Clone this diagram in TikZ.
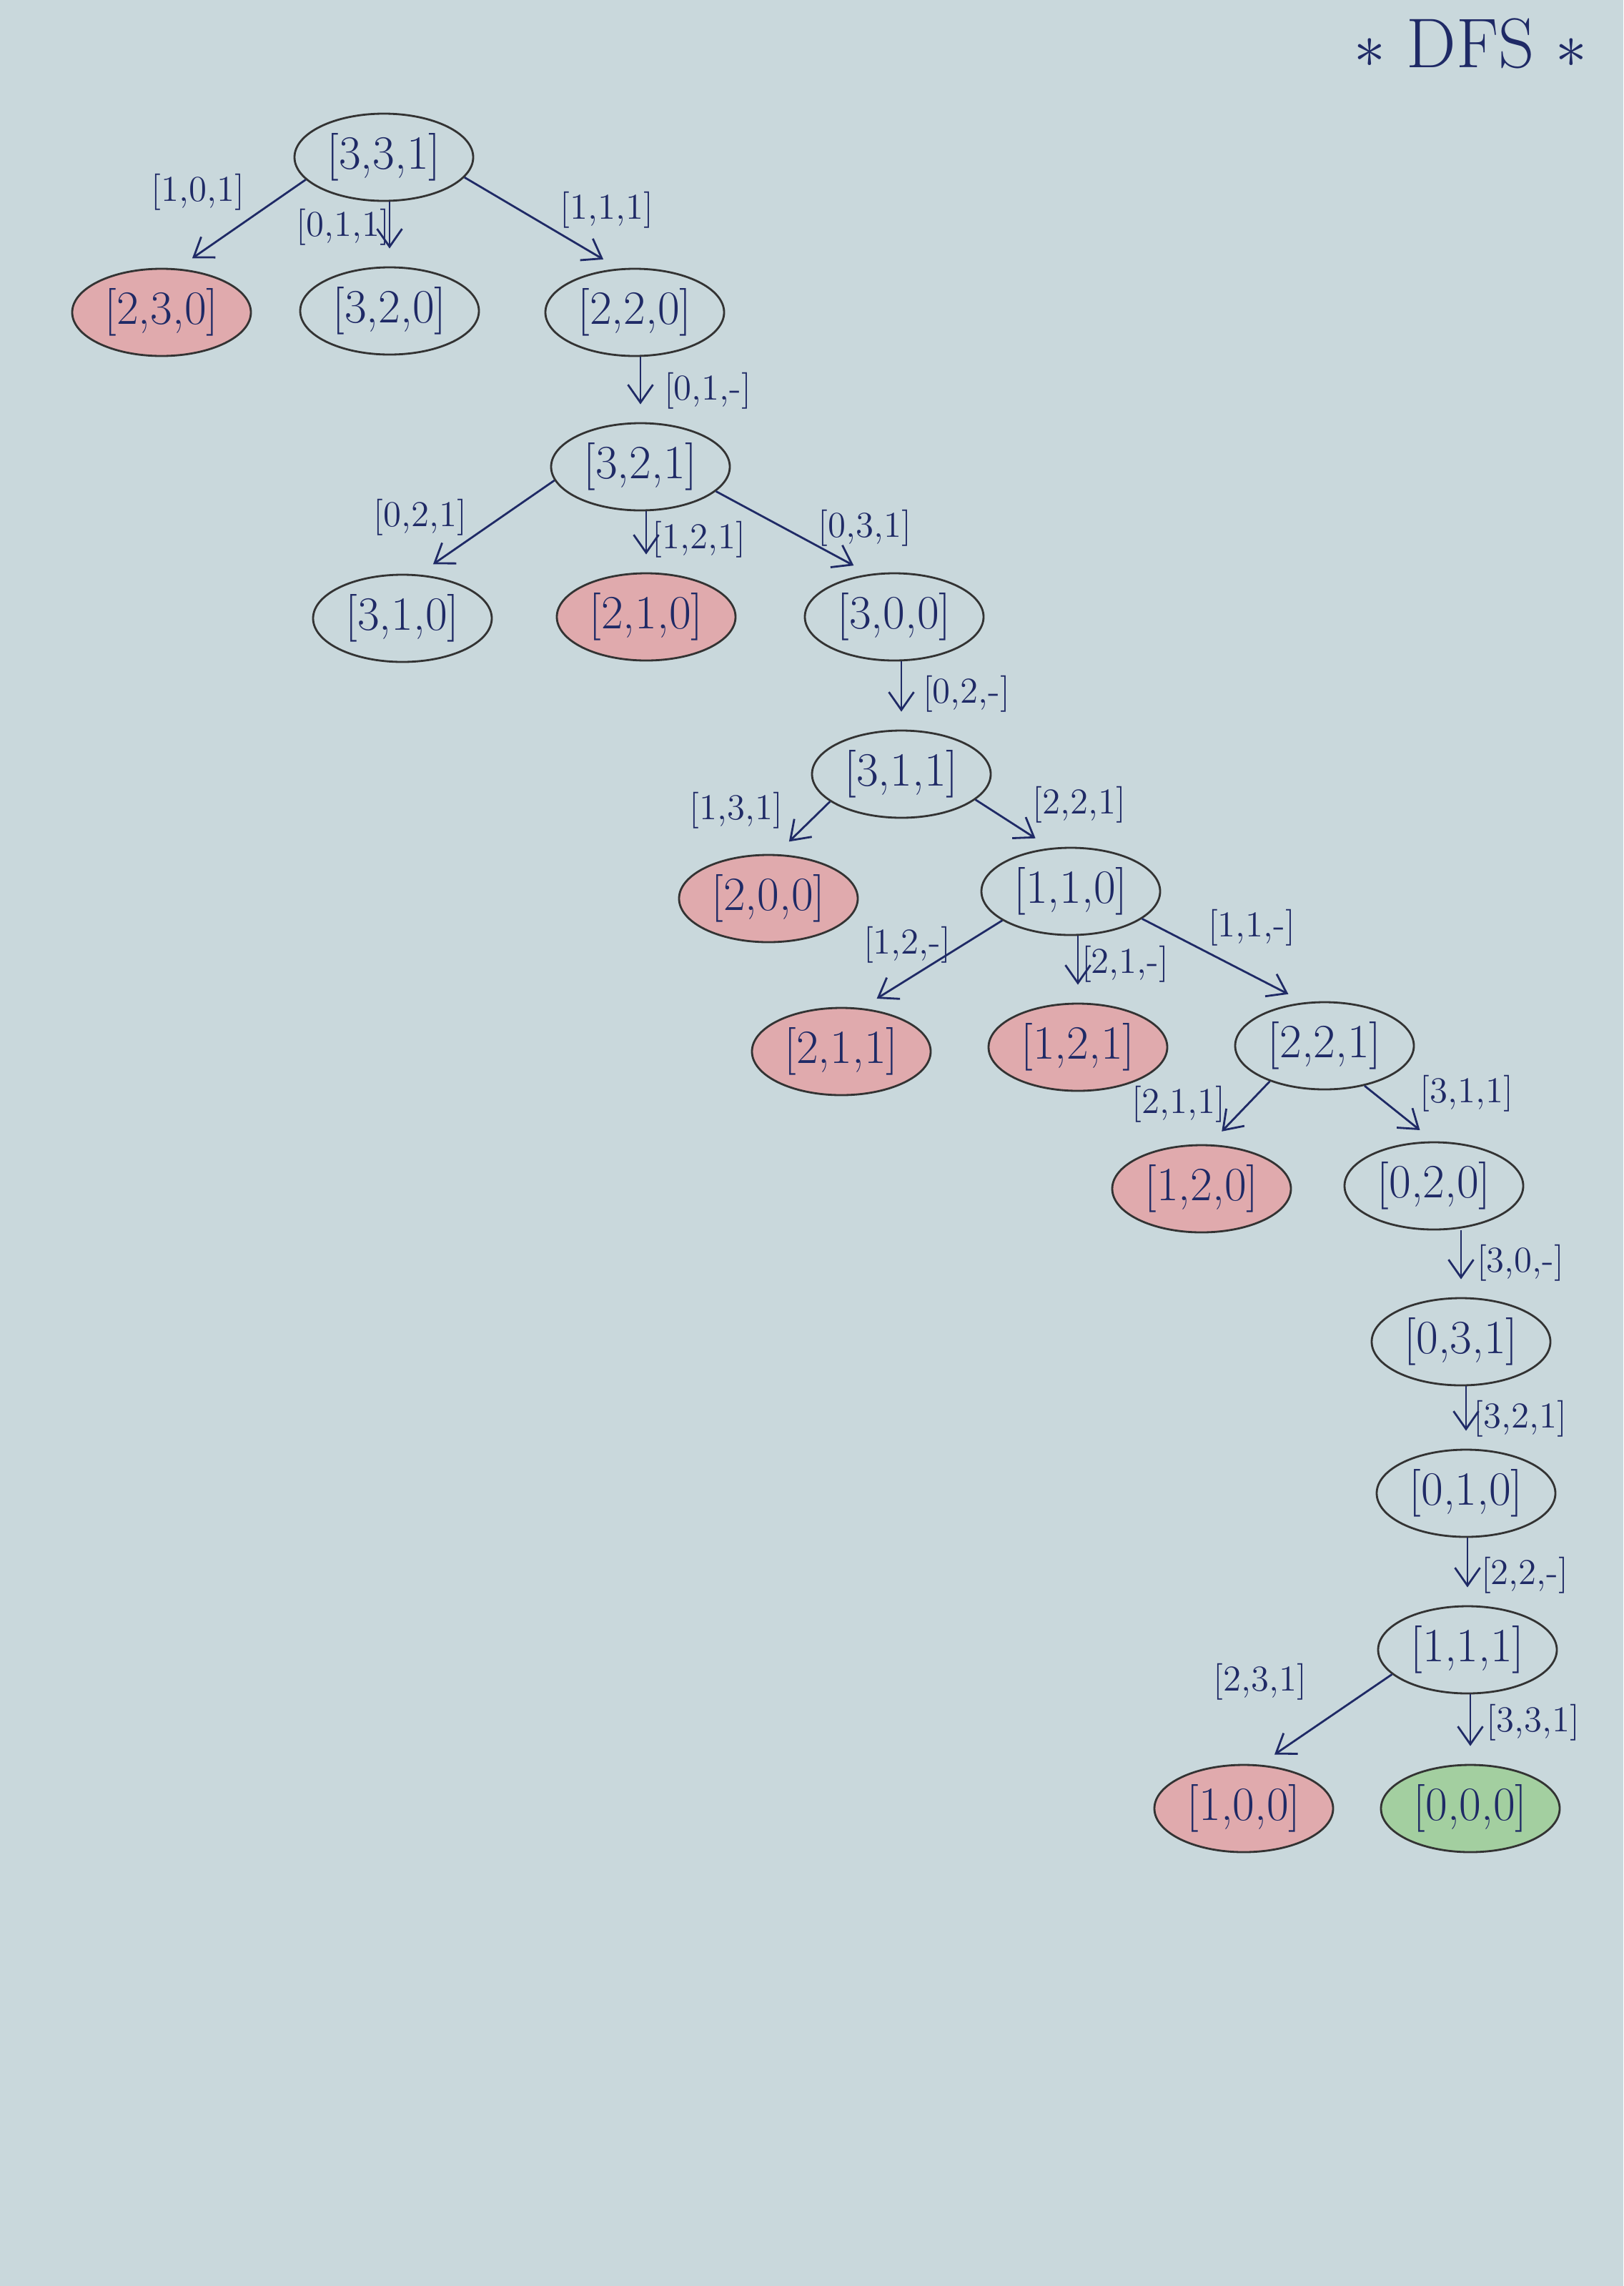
\documentclass[tikz,border=0pt]{standalone}
\usetikzlibrary{arrows.meta,shapes.geometric}
\definecolor{paper}{HTML}{C9D8DC}
\definecolor{inkblue}{HTML}{1F2A66}
\definecolor{deadred}{HTML}{E0AAAD}
\definecolor{goalgreen}{HTML}{A3CFA0}

\begin{document}
\begin{tikzpicture}[every node/.style={font=\fontsize{19}{21}\selectfont, text=inkblue},
  state/.style={draw=black!80, line width=0.8pt, ellipse, minimum width=2.5cm, minimum height=1.22cm, inner sep=0pt},
  dead/.style={state, fill=deadred},
  goal/.style={state, fill=goalgreen},
  move/.style={font=\fontsize{14.5}{16}\selectfont},
  tree/.style={-{Straight Barb[length=2.5mm,width=3.5mm]}, line width=0.8pt, draw=inkblue, shorten >=2.5mm}]
  % Paper
  \fill[paper] (0,0) rectangle (22.71,-31.98);
  \node[font=\fontsize{28}{30}\selectfont] (title) at (20.57,-0.61) {$\ast$ DFS $\ast$};

  % Root
  \node[state] (n331) at (5.37,-2.20) {[3,3,1]};

  % First level
  \node[dead] (n230) at (2.26,-4.37) {[2,3,0]};
  \node[state] (n320) at (5.45,-4.35) {[3,2,0]};
  \node[state] (n220) at (8.88,-4.37) {[2,2,0]};
  \draw[tree] (n331.196) -- (n230.70);
  \draw[tree] (n331.south -| n320) -- (n320);
  \draw[tree] (n331.346) -- (n220.110);
  \node[move] (m101) at (2.77,-2.69) {[1,0,1]};
  \node[move] (m011) at (4.80,-3.18) {[0,1,1]};
  \node[move] (m111a) at (8.49,-2.94) {[1,1,1]};

  % Second branch
  \node[state] (n321) at (8.96,-6.53) {[3,2,1]};
  \draw[tree] (n220.south -| n321) -- (n321);
  \node[move] (m01x) at (9.90,-5.47) {[0,1,-]};

  \node[state] (n310) at (5.63,-8.65) {[3,1,0]};
  \node[dead] (n210) at (9.04,-8.63) {[2,1,0]};
  \node[state] (n300) at (12.51,-8.63) {[3,0,0]};
  \draw[tree] (n321.189) -- (n310.70);
  \draw[tree] (n321.south -| n210) -- (n210);
  \draw[tree] (n321.342) -- (n300.120);
  \node[move] (m021) at (5.88,-7.24) {[0,2,1]};
  \node[move] (m121) at (9.78,-7.55) {[1,2,1]};
  \node[move] (m031) at (12.10,-7.39) {[0,3,1]};

  % Third branch
  \node[state] (n311) at (12.61,-10.83) {[3,1,1]};
  \draw[tree] (n300.south -| n311) -- (n311);
  \node[move] (m02x) at (13.52,-9.71) {[0,2,-]};

  \node[dead] (n200) at (10.75,-12.57) {[2,0,0]};
  \node[state] (n110) at (14.98,-12.47) {[1,1,0]};
  \draw[tree] (n311.201) -- (n200.80);
  \draw[tree] (n311.341) -- (n110.115);
  \node[move] (m131) at (10.30,-11.34) {[1,3,1]};
  \node[move] (m221) at (15.10,-11.26) {[2,2,1]};

  \node[dead] (n211) at (11.77,-14.71) {[2,1,1]};
  \node[dead] (n121) at (15.08,-14.65) {[1,2,1]};
  \node[state] (n221) at (18.53,-14.63) {[2,2,1]};
  \draw[tree] (n110.203) -- (n211.65);
  \draw[tree] (n110.south -| n121) -- (n121);
  \draw[tree] (n110.339) -- (n221.115);
  \node[move] (m12x) at (12.69,-13.22) {[1,2,-]};
  \node[move] (m21x) at (15.74,-13.49) {[2,1,-]};
  \node[move] (m11x) at (17.51,-12.98) {[1,1,-]};

  \node[dead] (n120) at (16.81,-16.63) {[1,2,0]};
  \node[state] (n020) at (20.06,-16.59) {[0,2,0]};
  \draw[tree] (n221.213) -- (n120.80);
  \draw[tree] (n221.315) -- (n020.90);
  \node[move] (m211) at (16.49,-15.45) {[2,1,1]};
  \node[move] (m311) at (20.52,-15.30) {[3,1,1]};

  % Down to the goal
  \node[state] (n031) at (20.44,-18.77) {[0,3,1]};
  \node[state] (n010) at (20.51,-20.89) {[0,1,0]};
  \node[state] (n111) at (20.53,-23.08) {[1,1,1]};
  \draw[tree] (n020.south -| n031) -- (n031);
  \draw[tree] (n031.south -| n010) -- (n010);
  \draw[tree] (n010.south -| n111) -- (n111);
  \node[move] (m30x) at (21.27,-17.67) {[3,0,-]};
  \node[move] (m321) at (21.27,-19.85) {[3,2,1]};
  \node[move] (m22x) at (21.33,-22.04) {[2,2,-]};

  \node[dead] (n100) at (17.40,-25.30) {[1,0,0]};
  \node[goal] (n000) at (20.57,-25.30) {[0,0,0]};
  \draw[tree] (n111.198) -- (n100.70);
  \draw[tree] (n111.south -| n000) -- (n000);
  \node[move] (m231) at (17.63,-23.53) {[2,3,1]};
  \node[move] (m331) at (21.45,-24.10) {[3,3,1]};
\end{tikzpicture}
\end{document}
